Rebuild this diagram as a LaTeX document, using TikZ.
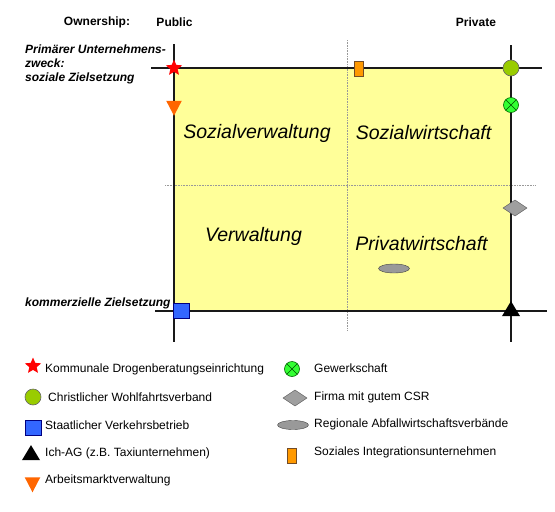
\documentclass[tikz,border=0pt]{standalone}
\usepackage{fontspec}
\setmainfont{Liberation Sans}
\usetikzlibrary{shapes.geometric}

\definecolor{quadyellow}{HTML}{FFFF99}
\definecolor{starred}{HTML}{FF0000}
\definecolor{triorange}{HTML}{FF6600}
\definecolor{rectorange}{HTML}{FF9900}
\definecolor{olivegreen}{HTML}{99CC00}
\definecolor{brightgreen}{HTML}{33FF33}
\definecolor{busblue}{HTML}{3366FF}

\begin{document}
\begin{tikzpicture}[x=1pt, y=-1pt,
    lbl/.style={font=\fontsize{12}{14}\selectfont, inner sep=0pt},
    axislbl/.style={lbl, font=\fontsize{12}{14}\selectfont\bfseries},
    goallbl/.style={lbl, font=\fontsize{12}{14}\selectfont\bfseries\itshape, align=left},
    quadlbl/.style={inner sep=0pt, font=\fontsize{19.5}{22}\selectfont\itshape},
    axisline/.style={line width=1.5pt, black!90},
    gridline/.style={densely dotted, gray!80, line width=0.6pt},
    sym/.style={inner sep=0pt, outer sep=0pt},
    starsym/.style={sym, star, star points=5, star point ratio=2.2, fill=starred, minimum size=17pt},
    downsym/.style={sym, isosceles triangle, isosceles triangle apex angle=55, shape border rotate=-90,
        fill=triorange, minimum width=15pt, minimum height=15pt},
    upsym/.style={sym, isosceles triangle, isosceles triangle apex angle=62, shape border rotate=90,
        fill=black, minimum width=17pt, minimum height=15pt},
    circsym/.style={sym, circle, fill=olivegreen, draw=black!60, line width=0.6pt, minimum size=16pt},
    xcircsym/.style={sym, circle, fill=brightgreen, draw=green!40!black, line width=0.6pt, minimum size=15pt,
        path picture={\draw[green!30!black, line width=0.6pt]
            (path picture bounding box.north west) -- (path picture bounding box.south east)
            (path picture bounding box.north east) -- (path picture bounding box.south west);}},
    diasym/.style={sym, diamond, fill=gray!75, draw=gray!60!black, line width=0.4pt, minimum width=24pt, minimum height=16pt},
    ellsym/.style={sym, ellipse, fill=gray!80, draw=gray!50!black, line width=0.4pt, minimum width=31pt, minimum height=9pt},
    sqsym/.style={sym, rectangle, fill=busblue, draw=blue!50!black, line width=0.4pt, minimum width=16pt, minimum height=15pt},
    barsym/.style={sym, rectangle, fill=rectorange, draw=brown!60!black, line width=0.7pt, minimum width=9pt, minimum height=15pt}]

    % --- 1. Frame ---
    \useasboundingbox (0,0) rectangle (555,512);
    \def\xL{174}
    \def\xR{511}
    \def\yT{68}
    \def\yB{311}

    % --- 2. Quadrants ---
    \fill[quadyellow] (\xL,\yT) rectangle (\xR,\yB);
    \draw[gridline] (347,40) -- (347,330);
    \draw[gridline] (165,185) -- (535,185);

    % --- 3. Axes ---
    \draw[axisline] (\xL,44) -- (\xL,342);
    \draw[axisline] (\xR,45) -- (\xR,342);
    \draw[axisline] (151,\yT) -- (542,\yT);
    \draw[axisline] (155,\yB) -- (547,\yB);

    % --- 4. Labels ---
    \node[axislbl] (own) at (97,22) {Ownership:};
    \node[axislbl] (pub) at (174.5,22) {Public};
    \node[axislbl] (priv) at (476,22) {Private};
    \node[goallbl, anchor=north west] (social) at (25,45) {Primärer Unternehmens-\\zweck:\\soziale Zielsetzung};
    \node[goallbl, anchor=west] (comm) at (25,303) {kommerzielle Zielsetzung};

    \node[quadlbl] (sv) at (257,133) {Sozialverwaltung};
    \node[quadlbl] (sw) at (423.5,133) {Sozialwirtschaft};
    \node[quadlbl] (vw) at (253.5,236) {Verwaltung};
    \node[quadlbl] (pw) at (421.5,244) {Privatwirtschaft};

    % --- 5. Organisations on the chart ---
    \node[starsym] (drog) at (\xL,68) {};
    \node[downsym] (amv) at (\xL,105.5) {};
    \node[barsym] (integ) at (358.5,68.5) {};
    \node[circsym] (wohl) at (\xR,68) {};
    \node[xcircsym] (gew) at (\xR,105) {};
    \node[diasym] (csr) at (515,208) {};
    \node[ellsym] (abf) at (394,268.5) {};
    \node[sqsym] (verk) at (181,310.5) {};
    \node[upsym] (ichag) at (511,311) {};

    % --- 6. Legend ---
    \node[starsym] (k1) at (33,366) {};
    \node[lbl, anchor=west] at (45,369) {Kommunale Drogenberatungseinrichtung};
    \node[circsym] (k2) at (33,397) {};
    \node[lbl, anchor=west] at (48,397) {Christlicher Wohlfahrtsverband};
    \node[sqsym] (k3) at (33,428) {};
    \node[lbl, anchor=west] at (45,425) {Staatlicher Verkehrsbetrieb};
    \node[upsym] (k4) at (31,455) {};
    \node[lbl, anchor=west] at (45,453) {Ich-AG (z.B. Taxiunternehmen)};
    \node[downsym] (k5) at (32.5,482) {};
    \node[lbl, anchor=west] at (45,480) {Arbeitsmarktverwaltung};

    \node[xcircsym] (k6) at (292,369) {};
    \node[lbl, anchor=west] at (314,368) {Gewerkschaft};
    \node[diasym] (k7) at (295,398) {};
    \node[lbl, anchor=west] at (314,397) {Firma mit gutem CSR};
    \node[ellsym] (k8) at (293,425) {};
    \node[lbl, anchor=west] at (314,424) {Regionale Abfallwirtschaftsverbände};
    \node[barsym] (k9) at (292,456) {};
    \node[lbl, anchor=west] at (314,452) {Soziales Integrationsunternehmen};
\end{tikzpicture}
\end{document}
